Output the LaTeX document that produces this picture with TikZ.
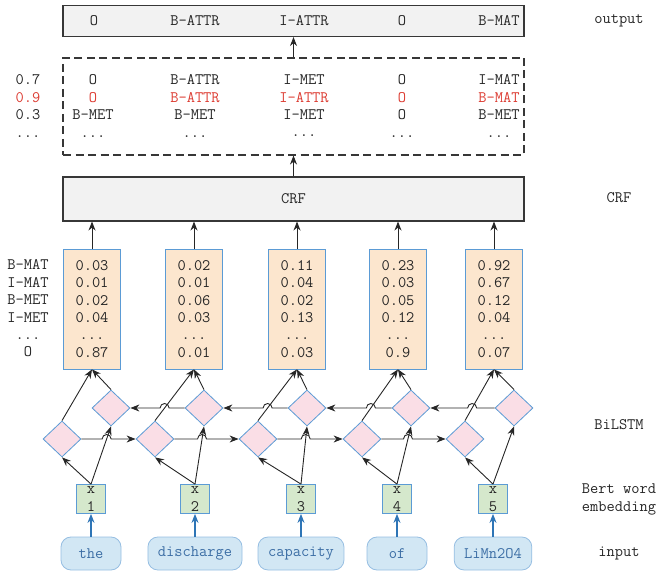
\documentclass[tikz,border=0pt]{standalone}
\usetikzlibrary{arrows.meta,shapes.geometric}
\definecolor{boxgray}{RGB}{242,242,242}
\definecolor{linegray}{RGB}{55,55,55}
\definecolor{edgeblue}{RGB}{91,155,213}
\definecolor{scorepeach}{RGB}{252,230,206}
\definecolor{cellpink}{RGB}{250,222,230}
\definecolor{embgreen}{RGB}{213,232,204}
\definecolor{wordfill}{RGB}{210,231,244}
\definecolor{wordedge}{RGB}{150,190,226}
\definecolor{wordtext}{RGB}{60,110,165}
\definecolor{arrblue}{RGB}{46,117,182}
\definecolor{tagred}{RGB}{220,60,50}
\begin{document}
\begin{tikzpicture}[x=1pt, y=1pt, font=\ttfamily\fontsize{16}{17.4}\selectfont, text=black!85,
    arr/.style={-{Stealth[length=9pt,width=7pt]}, line width=0.9pt, black!85},
    bluearr/.style={-{Stealth[length=9pt,width=7pt]}, line width=1.2pt, arrblue},
    graybox/.style={draw=linegray, fill=boxgray, line width=1.1pt, minimum width=461pt, inner sep=0pt},
    scorebox/.style={draw=edgeblue, fill=scorepeach, line width=0.8pt, minimum width=57pt, minimum height=120pt, align=center, inner sep=0pt},
    cell/.style={diamond, draw=edgeblue, fill=cellpink, line width=0.8pt, minimum width=38pt, minimum height=36pt, inner sep=0pt},
    embbox/.style={draw=edgeblue, fill=embgreen, line width=0.8pt, minimum width=29pt, minimum height=29pt, align=center, inner sep=0pt},
    wordbox/.style={draw=wordedge, fill=wordfill, text=wordtext, line width=0.8pt, rounded corners=10pt, minimum width=60pt, minimum height=33pt, inner xsep=10pt},
    lbl/.style={align=center}]
    \useasboundingbox (0,0) rectangle (662,571);

    % --- output and candidate paths ---
    \node[graybox, minimum height=31pt] (out) at (293.5,550) {};
    \foreach \tx/\tag in {94/O, 195/B-ATTR, 304/I-ATTR, 402/O, 499/B-MAT}
        \node at (\tx,550) {\tag};
    \node[draw=linegray, line width=1.1pt, dash pattern=on 8pt off 4.5pt, minimum width=461pt, minimum height=97pt] (paths) at (293.5,464.5) {};
    \foreach \tx/\col in {93/{O\\\textcolor{tagred}{O}\\B-MET\\...},
                         195/{B-ATTR\\\textcolor{tagred}{B-ATTR}\\B-MET\\...},
                         304/{I-MET\\\textcolor{tagred}{I-ATTR}\\I-MET\\...},
                         402/{O\\\textcolor{tagred}{O}\\O\\...},
                         499/{I-MAT\\\textcolor{tagred}{B-MAT}\\B-MET\\...}}
        \node[lbl] at (\tx,465) {\col};
    \node[lbl] (pathscore) at (28,465) {0.7\\\textcolor{tagred}{0.9}\\0.3\\...};
    \draw[arr] (paths.north -| out.south) -- (out.south);

    % --- CRF ---
    \node[graybox, minimum height=44pt] (crf) at (293.5,372) {CRF};
    \draw[arr] (crf.north) -- (crf.north |- paths.south);

    % --- scores, BiLSTM cells, embeddings and words ---
    \node[lbl] (tags) at (28,262.5) {B-MAT\\I-MAT\\B-MET\\I-MET\\...\\O};
    \foreach \i/\sx/\ux/\ex/\word/\score in {
        1/92/111/91/the/{0.03\\0.01\\0.02\\0.04\\...\\0.87},
        2/194/204/195/discharge/{0.02\\0.01\\0.06\\0.03\\...\\0.01},
        3/297/307/301/capacity/{0.11\\0.04\\0.02\\0.13\\...\\0.03},
        4/398/411/397/of/{0.23\\0.03\\0.05\\0.12\\...\\0.9},
        5/494/514/493/LiMn2O4/{0.92\\0.67\\0.12\\0.04\\...\\0.07}}{
        \node[scorebox] (s\i) at (\sx,262) {\score};
        \draw[arr] (s\i.north) -- (s\i.north |- crf.south);
        \node[cell] (up\i) at (\ux,163) {};
        \node[cell] (lo\i) at (\ux-49,132) {};
        \node[embbox] (e\i) at (\ex,72) {x\\\i};
        \node[wordbox] (w\i) at (\ex,17.5) {\word};
        \draw[bluearr] (w\i.north) -- (e\i.south);
        \draw[arr] (e\i.north) -- (lo\i.south);
        \draw[arr] (e\i.north) -- (up\i.south);
        \draw[arr] (lo\i.north) -- (s\i.south);
        \draw[arr] (up\i.north) -- (s\i.south);
    }

    % forward and backward links, with hops over the crossing lines
    \foreach \i [evaluate=\i as \j using int(\i+1)] in {1,...,4}{
        \coordinate (hl\i) at (intersection of lo\i.east--lo\j.west and e\i.north--up\i.south);
        \coordinate (hu\i) at (intersection of up\j.west--up\i.east and lo\j.north--s\j.south);
        \draw[arr] (lo\i.east) -- ([xshift=-4.5pt]hl\i) arc[start angle=180, end angle=0, radius=4.5pt] -- (lo\j.west);
        \draw[arr] (up\j.west) -- ([xshift=4.5pt]hu\i) arc[start angle=0, end angle=180, radius=4.5pt] -- (up\i.east);
    }

    % --- layer names ---
    \node (lout) at (619,550) {output};
    \node (lcrf) at (619,373) {CRF};
    \node (llstm) at (619,146) {BiLSTM};
    \node[lbl] (lemb) at (619,71.5) {Bert word\\embedding};
    \node (lin) at (619,18) {input};
\end{tikzpicture}
\end{document}
